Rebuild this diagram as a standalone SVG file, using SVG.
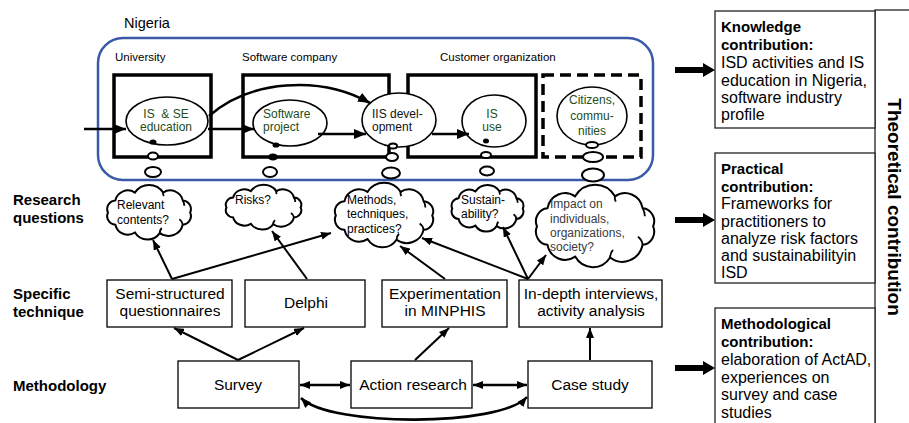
<svg xmlns="http://www.w3.org/2000/svg" width="909" height="423" viewBox="0 0 909 423">
<style>
text{font-family:"Liberation Sans",Arial,sans-serif;fill:#000}
.lbl{font-size:15px;font-weight:bold}
.org{font-size:11.5px}
.el{font-size:12px;fill:#234d20}
.elk{font-size:12px;fill:#111}
.cq{font-size:12px}
.cqg{font-size:12px;fill:#3a3a3a}
.bx{font-size:15.5px}
.rt{font-size:16px}
.rb{font-weight:bold;font-size:15px}
.tbox{fill:#fff;stroke:#000;stroke-width:1.3}
.obox{fill:none;stroke:#000;stroke-width:3.5}
.dash{stroke-dasharray:11 6}
.ell{fill:#fff;stroke:#000;stroke-width:1.6}
.bub{fill:#fff;stroke:#000;stroke-width:2}
.dot{fill:#000}
.ar{fill:none;stroke:#000;stroke-width:2}
.ar3{fill:none;stroke:#000;stroke-width:2.6}
.rbox{fill:#fff;stroke:#222;stroke-width:1.3}
.cloud{fill:#fff;stroke:#000;stroke-width:2;vector-effect:non-scaling-stroke}
.curl{fill:none;stroke:#000;stroke-width:1.8;vector-effect:non-scaling-stroke}
.fat{fill:#000}
</style>
<defs>
<marker id="ah" viewBox="0 0 10 8" refX="10" refY="4" markerUnits="userSpaceOnUse" markerWidth="10" markerHeight="8" orient="auto-start-reverse">
<path d="M0,0 L10,4 L0,8 z" fill="#000"/>
</marker>
<marker id="ah2" viewBox="0 0 12 10" refX="12" refY="5" markerUnits="userSpaceOnUse" markerWidth="12" markerHeight="10" orient="auto-start-reverse">
<path d="M0,0 L12,5 L0,10 z" fill="#000"/>
</marker>
<g id="cloud">
<path class="cloud" d="M92 30 A9 9 0 0 1 84.4 42.6 A15 15 0 0 1 60.9 51.3 A15 15 0 0 1 35.6 50.7 A13 13 0 0 1 15.6 42.6 A9 9 0 0 1 8 30 A9 9 0 0 1 15.6 17.4 A13 13 0 0 1 35.6 9.3 A17 17 0 0 1 64.4 9.3 A13 13 0 0 1 84.4 17.4 A9 9 0 0 1 92 30 Z"/>
<path class="curl" d="M84.4 42.6 Q84 39 81 37 M60.9 51.3 Q61 48 63 46 M84.4 17.4 Q86 20 86 23 M64.4 9.3 Q64 11 65 13"/>
</g>
</defs>

<rect width="909" height="423" fill="#fff"/>

<!-- Row labels -->
<g id="row-labels">
<text class="lbl" x="13" y="205">Research</text>
<text class="lbl" x="13" y="223">questions</text>
<text class="lbl" x="13" y="299">Specific</text>
<text class="lbl" x="13" y="317">technique</text>
<text class="lbl" x="13" y="391">Methodology</text>
</g>

<!-- Nigeria container -->
<g id="nigeria">
<text x="124" y="28" style="font-size:14.5px">Nigeria</text>
<rect x="98" y="38" width="555" height="142" rx="25" fill="none" stroke="#3a5aa8" stroke-width="2.5"/>
<text class="org" x="115" y="61">University</text>
<text class="org" x="242" y="61">Software company</text>
<text class="org" x="440" y="61">Customer organization</text>
</g>

<g id="university">
<rect class="obox" x="114" y="75" width="97" height="82"/>
</g>
<g id="software-company">
<rect class="obox" x="243" y="75" width="146" height="82"/>
</g>
<g id="customer-org">
<rect class="obox" x="408" y="75" width="128" height="82"/>
</g>
<g id="citizens-box">
<rect class="obox dash" x="543" y="75" width="98" height="82"/>
</g>

<g id="is-se-education">
<ellipse class="ell" cx="167" cy="121" rx="41" ry="24"/>
<text class="el" x="166" y="118" text-anchor="middle" xml:space="preserve">IS  &amp; SE</text>
<text class="el" x="166" y="131" text-anchor="middle">education</text>
<ellipse class="dot" cx="153" cy="142" rx="3.5" ry="2.6"/>
<ellipse class="bub" cx="153" cy="156" rx="5" ry="3.5"/>
<ellipse class="bub" cx="153" cy="172" rx="8" ry="5"/>
</g>

<g id="software-project">
<ellipse class="ell" cx="290" cy="123" rx="37" ry="23"/>
<text class="el" x="263" y="118">Software</text>
<text class="el" x="263" y="131">project</text>
<ellipse class="dot" cx="276" cy="145" rx="3.5" ry="2.6"/>
<ellipse class="dot" cx="273" cy="157" rx="5" ry="3.5"/>
<ellipse class="bub" cx="270" cy="172" rx="7" ry="5"/>
</g>

<g id="iis-development">
<ellipse class="ell" cx="399" cy="120" rx="37" ry="27"/>
<text class="elk" x="372" y="118">IIS devel-</text>
<text class="elk" x="372" y="131">opment</text>
<ellipse class="bub" cx="393" cy="146" rx="4" ry="2.5"/>
<ellipse class="bub" cx="392" cy="157" rx="6" ry="4"/>
<ellipse class="bub" cx="391" cy="173" rx="9" ry="5.5"/>
</g>

<g id="is-use">
<ellipse class="ell" cx="494" cy="121" rx="32" ry="26"/>
<text class="el" x="492" y="118" text-anchor="middle">IS</text>
<text class="el" x="492" y="131" text-anchor="middle">use</text>
<ellipse class="dot" cx="486" cy="141" rx="3" ry="2.5"/>
<ellipse class="bub" cx="486" cy="155" rx="5" ry="3"/>
<ellipse class="bub" cx="487" cy="171" rx="7" ry="4.5"/>
</g>

<g id="citizens">
<ellipse class="ell" cx="592" cy="116" rx="35" ry="29"/>
<text class="el" x="592" y="104" text-anchor="middle">Citizens,</text>
<text class="el" x="592" y="120" text-anchor="middle">commu-</text>
<text class="el" x="592" y="135" text-anchor="middle">nities</text>
<ellipse class="bub" cx="592" cy="145" rx="6" ry="3"/>
<ellipse class="bub" cx="593" cy="157" rx="10" ry="5"/>
<ellipse class="bub" cx="593" cy="175" rx="11" ry="6.5"/>
</g>

<!-- Research question clouds -->
<g id="q-relevant">
<use href="#cloud" transform="translate(100.1,183.6) scale(0.979,0.965)"/>
<text class="cq" x="117" y="209">Relevant</text>
<text class="cq" x="117" y="224">contents?</text>
</g>
<g id="q-risks">
<use href="#cloud" transform="translate(219.4,183.8) scale(0.883,0.789)"/>
<text class="cq" x="235" y="204">Risks?</text>
</g>
<g id="q-methods">
<use href="#cloud" transform="translate(326.6,181.3) scale(1.149,1.14)"/>
<text class="cq" x="347" y="204">Methods,</text>
<text class="cq" x="347" y="218">techniques,</text>
<text class="cq" x="347" y="233">practices?</text>
</g>
<g id="q-sustain">
<use href="#cloud" transform="translate(445.5,183.8) scale(0.84,0.825)"/>
<text class="cq" x="461" y="204">Sustain-</text>
<text class="cq" x="461" y="218">ability?</text>
</g>
<g id="q-impact">
<use href="#cloud" transform="translate(525.9,182.8) scale(1.383,1.456)"/>
<text class="cqg" x="550" y="208">Impact on</text>
<text class="cqg" x="550" y="223">individuals,</text>
<text class="cqg" x="550" y="237">organizations,</text>
<text class="cqg" x="550" y="251">society?</text>
</g>

<!-- Specific techniques -->
<g id="t-questionnaires">
<rect class="tbox" x="107" y="280" width="125" height="47"/>
<text class="bx" x="170" y="299" text-anchor="middle">Semi-structured</text>
<text class="bx" x="170" y="316" text-anchor="middle">questionnaires</text>
</g>
<g id="t-delphi">
<rect class="tbox" x="245" y="280" width="120" height="47"/>
<text class="bx" x="306" y="308" text-anchor="middle">Delphi</text>
</g>
<g id="t-experimentation">
<rect class="tbox" x="382" y="280" width="125" height="47"/>
<text class="bx" x="445" y="299" text-anchor="middle">Experimentation</text>
<text class="bx" x="445" y="316" text-anchor="middle">in MINPHIS</text>
</g>
<g id="t-interviews">
<rect class="tbox" x="519" y="280" width="143" height="47"/>
<text class="bx" x="591" y="299" text-anchor="middle">In-depth interviews,</text>
<text class="bx" x="591" y="316" text-anchor="middle">activity analysis</text>
</g>

<!-- Methodology -->
<g id="m-survey">
<rect class="tbox" x="178" y="361" width="121" height="47"/>
<text class="bx" x="238" y="390" text-anchor="middle">Survey</text>
</g>
<g id="m-action">
<rect class="tbox" x="351" y="361" width="121" height="47"/>
<text class="bx" x="413" y="390" text-anchor="middle">Action research</text>
</g>
<g id="m-case">
<rect class="tbox" x="528" y="361" width="124" height="47"/>
<text class="bx" x="590" y="390" text-anchor="middle">Case study</text>
</g>

<!-- Contributions -->
<g id="theoretical">
<rect class="rbox" x="875" y="10" width="60" height="430"/>
<text transform="translate(888,207) rotate(90)" text-anchor="middle" style="font-size:19px;font-weight:bold">Theoretical contribution</text>
</g>
<g id="knowledge">
<rect class="rbox" x="715" y="11" width="160" height="117"/>
<text class="rb" x="721" y="32">Knowledge</text>
<text class="rb" x="721" y="50">contribution:</text>
<text class="rt" x="721" y="68">ISD activities and IS</text>
<text class="rt" x="721" y="86">education in Nigeria,</text>
<text class="rt" x="721" y="103">software industry</text>
<text class="rt" x="721" y="120">profile</text>
</g>
<g id="practical">
<rect class="rbox" x="715" y="153" width="160" height="130"/>
<text class="rb" x="721" y="174">Practical</text>
<text class="rb" x="721" y="192">contribution:</text>
<text class="rt" x="721" y="209">Frameworks for</text>
<text class="rt" x="721" y="227">practitioners to</text>
<text class="rt" x="721" y="244">analyze risk factors</text>
<text class="rt" x="721" y="261">and sustainabilityin</text>
<text class="rt" x="721" y="278">ISD</text>
</g>
<g id="methodological">
<rect class="rbox" x="715" y="308" width="160" height="130"/>
<text class="rb" x="721" y="329">Methodological</text>
<text class="rb" x="721" y="347">contribution:</text>
<text class="rt" x="721" y="365">elaboration of ActAD,</text>
<text class="rt" x="721" y="383">experiences on</text>
<text class="rt" x="721" y="400">survey and case</text>
<text class="rt" x="721" y="418">studies</text>
</g>

<!-- Connectors -->
<g id="connectors">
<line class="ar3" x1="84" y1="129" x2="126" y2="129" marker-end="url(#ah2)"/>
<line class="ar3" x1="208" y1="129" x2="254" y2="129" marker-end="url(#ah2)"/>
<path class="ar3" d="M209 116 C250 80 320 75 370 103" marker-end="url(#ah2)"/>
<line class="ar3" x1="318" y1="134" x2="366" y2="134" marker-end="url(#ah2)"/>
<line class="ar3" x1="432" y1="134" x2="469" y2="134" marker-end="url(#ah2)"/>

<line class="ar" x1="172" y1="279" x2="153" y2="240" marker-end="url(#ah)"/>
<line class="ar" x1="172" y1="279" x2="331" y2="233" marker-end="url(#ah)"/>
<line class="ar" x1="307" y1="279" x2="272" y2="231" marker-end="url(#ah)"/>
<line class="ar" x1="445" y1="279" x2="400" y2="246" marker-end="url(#ah)"/>
<line class="ar" x1="528" y1="279" x2="422" y2="238" marker-end="url(#ah)"/>
<line class="ar" x1="528" y1="279" x2="503" y2="227" marker-end="url(#ah)"/>
<line class="ar" x1="528" y1="279" x2="546" y2="255" marker-end="url(#ah)"/>

<line class="ar" x1="238" y1="360" x2="174" y2="328" marker-end="url(#ah)"/>
<line class="ar" x1="238" y1="360" x2="304" y2="328" marker-end="url(#ah)"/>
<line class="ar" x1="415" y1="360" x2="449" y2="328" marker-end="url(#ah)"/>
<line class="ar" x1="590" y1="360" x2="590" y2="328" marker-end="url(#ah)"/>

<line class="ar3" x1="300" y1="385" x2="350" y2="385" marker-start="url(#ah)" marker-end="url(#ah)"/>
<line class="ar3" x1="473" y1="385" x2="527" y2="385" marker-start="url(#ah)" marker-end="url(#ah)"/>
<path class="ar3" d="M301 398 C330 427 500 427 527 397" marker-start="url(#ah)" marker-end="url(#ah)"/>

<polygon class="fat" points="675,67 703,67 703,63 715,70 703,77 703,73 675,73"/>
<polygon class="fat" points="675,217 703,217 703,213 715,220 703,227 703,223 675,223"/>
<polygon class="fat" points="675,365 703,365 703,361 715,368 703,375 703,371 675,371"/>
</g>
</svg>
